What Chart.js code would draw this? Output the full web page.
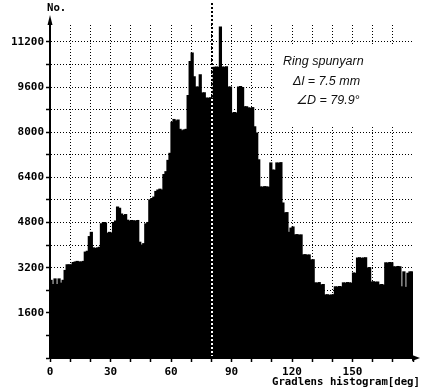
<!DOCTYPE html>
<html>
<head>
<meta charset="utf-8">
<script src="https://cdn.jsdelivr.net/npm/chart.js@4/dist/chart.umd.min.js"></script>
<style>
html,body{margin:0;padding:0;background:#fff;}
#wrap{width:425px;height:392px;}
</style>
</head>
<body>
<div id="wrap"><canvas id="c" width="425" height="392"></canvas></div>
<script>
// ---- data ----
const BIN_STARTS_DEG = Array.from({length: 180}, (_, i) => i); // 1-degree bins, 0..179
const COUNTS = [
  2750, 2600, 2800, 2600, 2800, 2650, 2750, 3100, 3300, 3300,
  3300, 3380, 3400, 3420, 3400, 3400, 3420, 3750, 3780, 4300,
  4450, 3900, 3880, 3900, 3920, 4750, 4800, 4780, 4420, 4450,
  4430, 4800, 4850, 5350, 5300, 5100, 5050, 5080, 4880, 4850,
  4870, 4860, 4850, 4870, 4100, 4000, 4050, 4750, 4800, 5600,
  5650, 5700, 5900, 5950, 5980, 5950, 6500, 6600, 7000, 7250,
  8350, 8450, 8400, 8430, 8100, 8050, 8080, 8100, 9300, 10500,
  10800, 9960, 9600, 9600, 10030, 9390, 9400, 9210, 9200, 9220,
  9210, 10300, 10310, 10300, 11730, 10310, 10300, 10320, 9600, 9600,
  8680, 8700, 8680, 9600, 9620, 9580, 8900, 8900, 8860, 8850,
  8870, 8190, 7970, 7020, 6060, 6050, 6070, 6060, 6050, 6910,
  6660, 6650, 6910, 6900, 6920, 5490, 5140, 5150, 4450, 4600,
  4640, 4360, 4370, 4350, 4360, 3650, 3660, 3640, 3650, 3470,
  3480, 2660, 2650, 2670, 2590, 2600, 2230, 2240, 2220, 2230,
  2240, 2520, 2510, 2530, 2520, 2660, 2650, 2670, 2660, 2650,
  3010, 3000, 3540, 3550, 3530, 3540, 3550, 3190, 3200, 2690,
  2700, 2680, 2690, 2590, 2600, 2580, 3370, 3360, 3380, 3370,
  3230, 3220, 3240, 3230, 2520, 3050, 2500, 3000, 3050, 3050
];
const X_LABELS = [0, 30, 60, 90, 120, 150];
const Y_LABELS = [1600, 3200, 4800, 6400, 8000, 9600, 11200];
const MEAN_DEG = 79.9;
const ANNOTATION = ["Ring spunyarn", "\u0394l = 7.5 mm", "\u2220D = 79.9\u00b0"];
const Y_TITLE = "No.";
const X_TITLE = "Gradlens histogram[deg]";

const TICK_FONT = {family: "'DejaVu Sans Mono', monospace", size: 11, weight: 'bold'};

const overlay = {
  id: 'overlay',
  beforeDatasetsDraw(chart) {
    const ctx = chart.ctx;
    ctx.save();
    // white legend box hiding grid
    ctx.fillStyle = '#fff';
    ctx.fillRect(276, 45, 149, 81);
    ctx.fillStyle = '#111';
    ctx.font = "italic 12.5px 'Liberation Sans', Arial, sans-serif";
    ctx.textBaseline = 'middle';
    ctx.textAlign = 'left';
    ctx.fillText(ANNOTATION[0], 283, 62);
    ctx.fillText(ANNOTATION[1], 293, 82);
    ctx.fillText(ANNOTATION[2], 296, 101);
    ctx.restore();
  },
  afterDraw(chart) {
    const ctx = chart.ctx;
    const xs = chart.scales.x, ys = chart.scales.y;
    const area = chart.chartArea;
    ctx.save();
    // mean line
    const mx = Math.round(xs.getPixelForValue(MEAN_DEG)) + 1;
    const barTop = Math.round(ys.getPixelForValue(COUNTS[Math.floor(MEAN_DEG)]));
    ctx.lineWidth = 2;
    ctx.setLineDash([2, 2]);
    ctx.strokeStyle = '#000';
    ctx.beginPath(); ctx.moveTo(mx, 3); ctx.lineTo(mx, barTop); ctx.stroke();
    ctx.strokeStyle = '#fff';
    ctx.beginPath(); ctx.moveTo(mx, barTop + 1); ctx.lineTo(mx, area.bottom - 2); ctx.stroke();
    ctx.setLineDash([]);
    // axis arrows
    ctx.strokeStyle = '#000';
    ctx.fillStyle = '#000';
    ctx.lineWidth = 2;
    const ax = area.left;
    ctx.beginPath(); ctx.moveTo(ax, area.top); ctx.lineTo(ax, 22); ctx.stroke();
    ctx.beginPath(); ctx.moveTo(ax, 15); ctx.lineTo(ax - 2.5, 25); ctx.lineTo(ax + 2.5, 25); ctx.closePath(); ctx.fill();
    const ay = area.bottom;
    ctx.beginPath(); ctx.moveTo(area.right, ay); ctx.lineTo(414, ay); ctx.stroke();
    ctx.beginPath(); ctx.moveTo(420, ay); ctx.lineTo(412, ay - 3); ctx.lineTo(412, ay + 3); ctx.closePath(); ctx.fill();
    // titles
    ctx.font = "bold 10.7px 'DejaVu Sans Mono', monospace";
    ctx.textBaseline = 'middle';
    ctx.textAlign = 'left';
    ctx.fillText(Y_TITLE, 47, 8);
    ctx.fillText(X_TITLE, 272, 382);
    ctx.restore();
  }
};

new Chart(document.getElementById('c'), {
  type: 'bar',
  data: {
    datasets: [{
      data: BIN_STARTS_DEG.map((d, i) => ({x: d + 0.5, y: COUNTS[i]})),
      backgroundColor: '#000',
      borderColor: '#000',
      borderWidth: 0,
      inflateAmount: 0.6,
      barPercentage: 1,
      categoryPercentage: 1
    }]
  },
  options: {
    responsive: false,
    animation: false,
    devicePixelRatio: 1,
    layout: {padding: {left: 0, right: 12, top: 25, bottom: 0}},
    plugins: {legend: {display: false}, tooltip: {enabled: false}},
    scales: {
      x: {
        type: 'linear',
        min: 0, max: 180,
        offset: false,
        afterBuildTicks(scale) {
          const t = [];
          for (let v = 0; v <= 180; v += 10) t.push({value: v});
          scale.ticks = t;
        },
        afterFit(scale) { scale.height = 34; },
        ticks: {
          autoSkip: false, maxRotation: 0, padding: 4,
          color: '#000', font: TICK_FONT,
          callback: (v) => X_LABELS.includes(v) ? String(v) : ''
        },
        grid: {
          offset: false,
          color: (c) => (c.tick && (c.tick.value === 0 || c.tick.value === 180)) ? 'rgba(0,0,0,0)' : '#000',
          lineWidth: 1,
          drawTicks: true, tickLength: 4, tickColor: '#000', tickWidth: 1.5
        },
        border: {display: true, color: '#000', width: 2, dash: [1, 2]}
      },
      y: {
        type: 'linear',
        min: 0, max: 11800,
        afterBuildTicks(scale) {
          const t = [];
          for (let v = 0; v <= 11200; v += 800) t.push({value: v});
          scale.ticks = t;
        },
        afterFit(scale) { scale.width = 50; },
        ticks: {
          autoSkip: false, padding: 2,
          color: '#000', font: TICK_FONT,
          callback: (v) => Y_LABELS.includes(v) ? String(v) : ''
        },
        grid: {
          color: (c) => (c.tick && c.tick.value === 0) ? 'rgba(0,0,0,0)' : '#000',
          lineWidth: 1,
          drawTicks: true, tickLength: 4, tickColor: '#000', tickWidth: 1.5
        },
        border: {display: true, color: '#000', width: 2, dash: [1, 2]}
      }
    }
  },
  plugins: [overlay]
});
</script>
</body>
</html>
